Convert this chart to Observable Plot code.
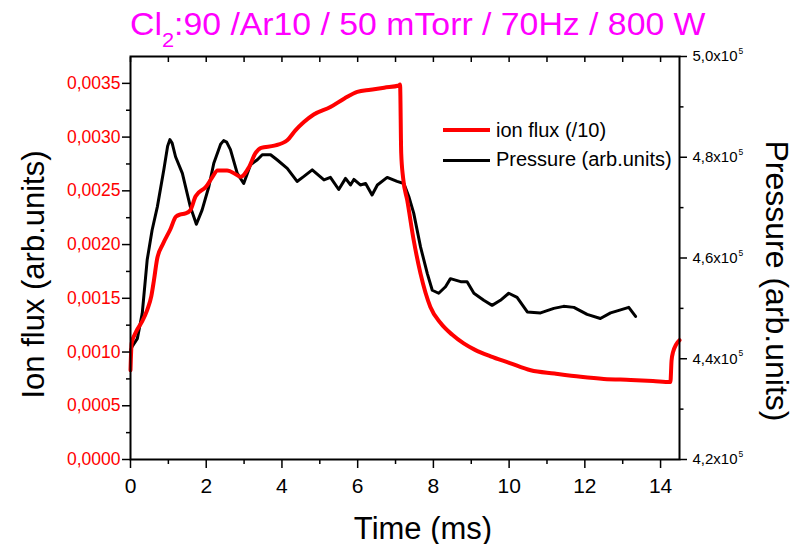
<!DOCTYPE html>
<html>
<head>
<meta charset="utf-8">
<script src="https://cdn.jsdelivr.net/npm/d3@7"></script>
<script src="https://cdn.jsdelivr.net/npm/@observablehq/plot@0.6"></script>
<style>
  body { margin: 0; background: #fff; }
  #wrap { position: relative; width: 793px; height: 544px; font-family: "Liberation Sans", Arial, sans-serif; }
  #title { position: absolute; left: 130px; top: 9px; font-size: 31px; line-height: 31px; color: #ff00ff; white-space: nowrap; transform: scaleX(1.09); transform-origin: 0 0; }
  #title sub { font-size: 20px; line-height: 0; vertical-align: -12px; }
  .leg { position: absolute; left: 443px; font-size: 20px; line-height: 20px; white-space: nowrap; }
  .sw { position: absolute; left: 0; width: 47px; }
  .lt { position: absolute; left: 53px; top: 0; }
</style>
</head>
<body>
<div id="wrap">
  <div id="chart"></div>
  <div id="title">Cl<sub>2</sub>:90 /Ar10 / 50 mTorr / 70Hz / 800 W</div>
  <div class="leg" style="top:119.6px"><div class="sw" style="top:8.4px;height:4px;background:#ff0000"></div><div class="lt">ion flux (/10)</div></div>
  <div class="leg" style="top:149px"><div class="sw" style="top:9.5px;height:3px;background:#000"></div><div class="lt">Pressure (arb.units)</div></div>
</div>
<script>
// Ion flux (/10), left axis
const ionT = [0, 0.03, 0.15, 0.30, 0.44, 0.55, 0.62, 0.70, 0.85, 1.05, 1.20, 1.32, 1.45, 1.58, 1.72, 2.00, 2.15, 2.30, 2.55, 2.80, 2.91, 3.13, 3.30, 3.45, 3.80, 4.14, 4.35, 4.58, 4.84, 5.28, 5.65, 5.99, 6.34, 6.70, 7.09, 7.12, 7.15, 7.20, 7.31, 7.48, 7.66, 7.92, 8.19, 8.50, 8.80, 9.10, 9.51, 10.00, 10.57, 11.20, 11.89, 12.50, 13.21, 13.80, 14.26, 14.29, 14.33, 14.50];
const ionV = [0.00083, 0.00108, 0.00119, 0.00128, 0.00139, 0.00152, 0.00167, 0.00186, 0.00200, 0.00214, 0.00226, 0.00228, 0.00229, 0.00232, 0.00245, 0.00254, 0.00262, 0.00269, 0.00269, 0.00265, 0.00263, 0.00272, 0.00285, 0.00290, 0.00292, 0.00297, 0.00306, 0.00314, 0.00321, 0.00328, 0.00336, 0.00342, 0.00344, 0.00346, 0.00348, 0.00349, 0.00285, 0.00262, 0.00241, 0.00204, 0.00173, 0.00142, 0.00127, 0.00116, 0.00108, 0.00102, 0.00096, 0.00090, 0.00083, 0.00080, 0.00077, 0.00075, 0.00074, 0.00073, 0.00072, 0.00092, 0.00100, 0.00111];

// Pressure (x10^5 arb. units), right axis
const presT = [0.00, 0.05, 0.18, 0.31, 0.44, 0.57, 0.71, 0.88, 0.98, 1.04, 1.10, 1.19, 1.37, 1.58, 1.74, 1.89, 2.07, 2.20, 2.38, 2.46, 2.54, 2.64, 2.82, 2.99, 3.17, 3.35, 3.48, 3.70, 3.87, 4.14, 4.40, 4.58, 4.80, 5.11, 5.28, 5.50, 5.68, 5.81, 5.90, 6.07, 6.21, 6.38, 6.52, 6.78, 7.04, 7.22, 7.35, 7.48, 7.66, 7.84, 7.97, 8.14, 8.32, 8.45, 8.72, 8.89, 9.07, 9.33, 9.55, 9.77, 9.99, 10.21, 10.48, 10.83, 11.18, 11.44, 11.71, 12.06, 12.41, 12.68, 12.90, 13.16, 13.34];
const presV = [4.417, 4.425, 4.440, 4.490, 4.596, 4.655, 4.702, 4.775, 4.822, 4.835, 4.828, 4.801, 4.768, 4.702, 4.667, 4.695, 4.742, 4.788, 4.826, 4.833, 4.830, 4.815, 4.768, 4.748, 4.785, 4.795, 4.805, 4.805, 4.795, 4.778, 4.752, 4.762, 4.775, 4.755, 4.760, 4.736, 4.758, 4.745, 4.756, 4.745, 4.748, 4.725, 4.745, 4.760, 4.752, 4.748, 4.722, 4.689, 4.622, 4.569, 4.536, 4.530, 4.543, 4.559, 4.553, 4.553, 4.530, 4.516, 4.506, 4.516, 4.530, 4.522, 4.493, 4.491, 4.500, 4.504, 4.502, 4.488, 4.480, 4.491, 4.496, 4.502, 4.484];

// Axes
const xDomain = [0, 14.5];
const leftDomain = [0, 0.00375];
const rightDomain = [4.2, 5.0];
const xMajor = [0, 2, 4, 6, 8, 10, 12, 14];
const xMinor = [1, 3, 5, 7, 9, 11, 13];
const leftMajor = [0, 0.0005, 0.0010, 0.0015, 0.0020, 0.0025, 0.0030, 0.0035];
const leftMinor = [0.00025, 0.00075, 0.00125, 0.00175, 0.00225, 0.00275, 0.00325];
const rightMajor = [4.2, 4.4, 4.6, 4.8, 5.0];
const rightMinor = [4.3, 4.5, 4.7, 4.9];

const toLeft = p => (p - rightDomain[0]) / (rightDomain[1] - rightDomain[0]) * leftDomain[1];
const ionData = ionT.map((t, i) => ({t, v: ionV[i]}));
const presData = presT.map((t, i) => ({t, p: presV[i]}));

const font = "'Liberation Sans', Arial, sans-serif";
const chart = Plot.plot({
  width: 793, height: 544,
  marginLeft: 130, marginRight: 114, marginTop: 56, marginBottom: 85,
  style: {fontFamily: font, background: "white", color: "black"},
  x: {domain: xDomain},
  y: {domain: leftDomain},
  marks: [
    Plot.line(presData, {x: "t", y: d => toLeft(d.p), stroke: "black", strokeWidth: 3, strokeLinejoin: "round"}),
    Plot.line(ionData, {x: "t", y: "v", stroke: "#ff0000", strokeWidth: 4, strokeLinejoin: "round", curve: "monotone-x"}),
    Plot.frame({stroke: "black", strokeWidth: 2}),
    // bottom axis
    Plot.axisX({anchor: "bottom", label: null, ticks: xMajor, tickSize: 9, tickPadding: 10, tickFormat: d => String(d), fontSize: 21, strokeWidth: 1.5}),
    Plot.axisX({anchor: "bottom", label: null, ticks: xMinor, tickSize: 5, tickFormat: () => "", strokeWidth: 1.5}),
    // top axis (inward ticks)
    Plot.axisX({anchor: "top", label: null, ticks: xMajor.concat(xMinor), tickSize: -5, tickFormat: () => "", strokeWidth: 1.5}),
    // left axis
    Plot.axisY({anchor: "left", label: null, ticks: leftMajor, tickSize: 8, tickPadding: 2, fontSize: 17.5, stroke: "black", fill: "#ff0000", strokeWidth: 1.5,
      tickFormat: d => d.toFixed(4).replace(".", ",")}),
    Plot.axisY({anchor: "left", label: null, ticks: leftMinor, tickSize: 4, tickFormat: () => "", strokeWidth: 1.5}),
    // right axis
    Plot.axisY({anchor: "right", label: null, ticks: rightMajor.map(toLeft), tickSize: 7, tickPadding: 6, fontSize: 15, strokeWidth: 1.5,
      tickFormat: (d, i) => rightMajor[i].toFixed(1).replace(".", ",") + "x10"}),
    Plot.axisY({anchor: "right", label: null, ticks: rightMinor.map(toLeft), tickSize: 3.5, tickFormat: () => "", strokeWidth: 1.5}),
    Plot.text(rightMajor, {y: d => toLeft(d), frameAnchor: "right", dx: 59, dy: -5, text: () => "5", textAnchor: "start", fontSize: 8.5}),
    // axis titles
    Plot.text(["Time (ms)"], {frameAnchor: "bottom", dx: 18, dy: 79, textAnchor: "middle", lineAnchor: "bottom", fontSize: 31, text: d => d}),
    Plot.text(["Ion flux (arb.units)"], {frameAnchor: "left", dx: -87, dy: 16.5, rotate: -90, textAnchor: "middle", lineAnchor: "bottom", fontSize: 31, text: d => d}),
    Plot.text(["Pressure (arb.units)"], {frameAnchor: "right", dx: 86, dy: 23, rotate: 90, textAnchor: "middle", lineAnchor: "bottom", fontSize: 32, text: d => d})
  ]
});
document.getElementById("chart").appendChild(chart);
</script>
</body>
</html>
